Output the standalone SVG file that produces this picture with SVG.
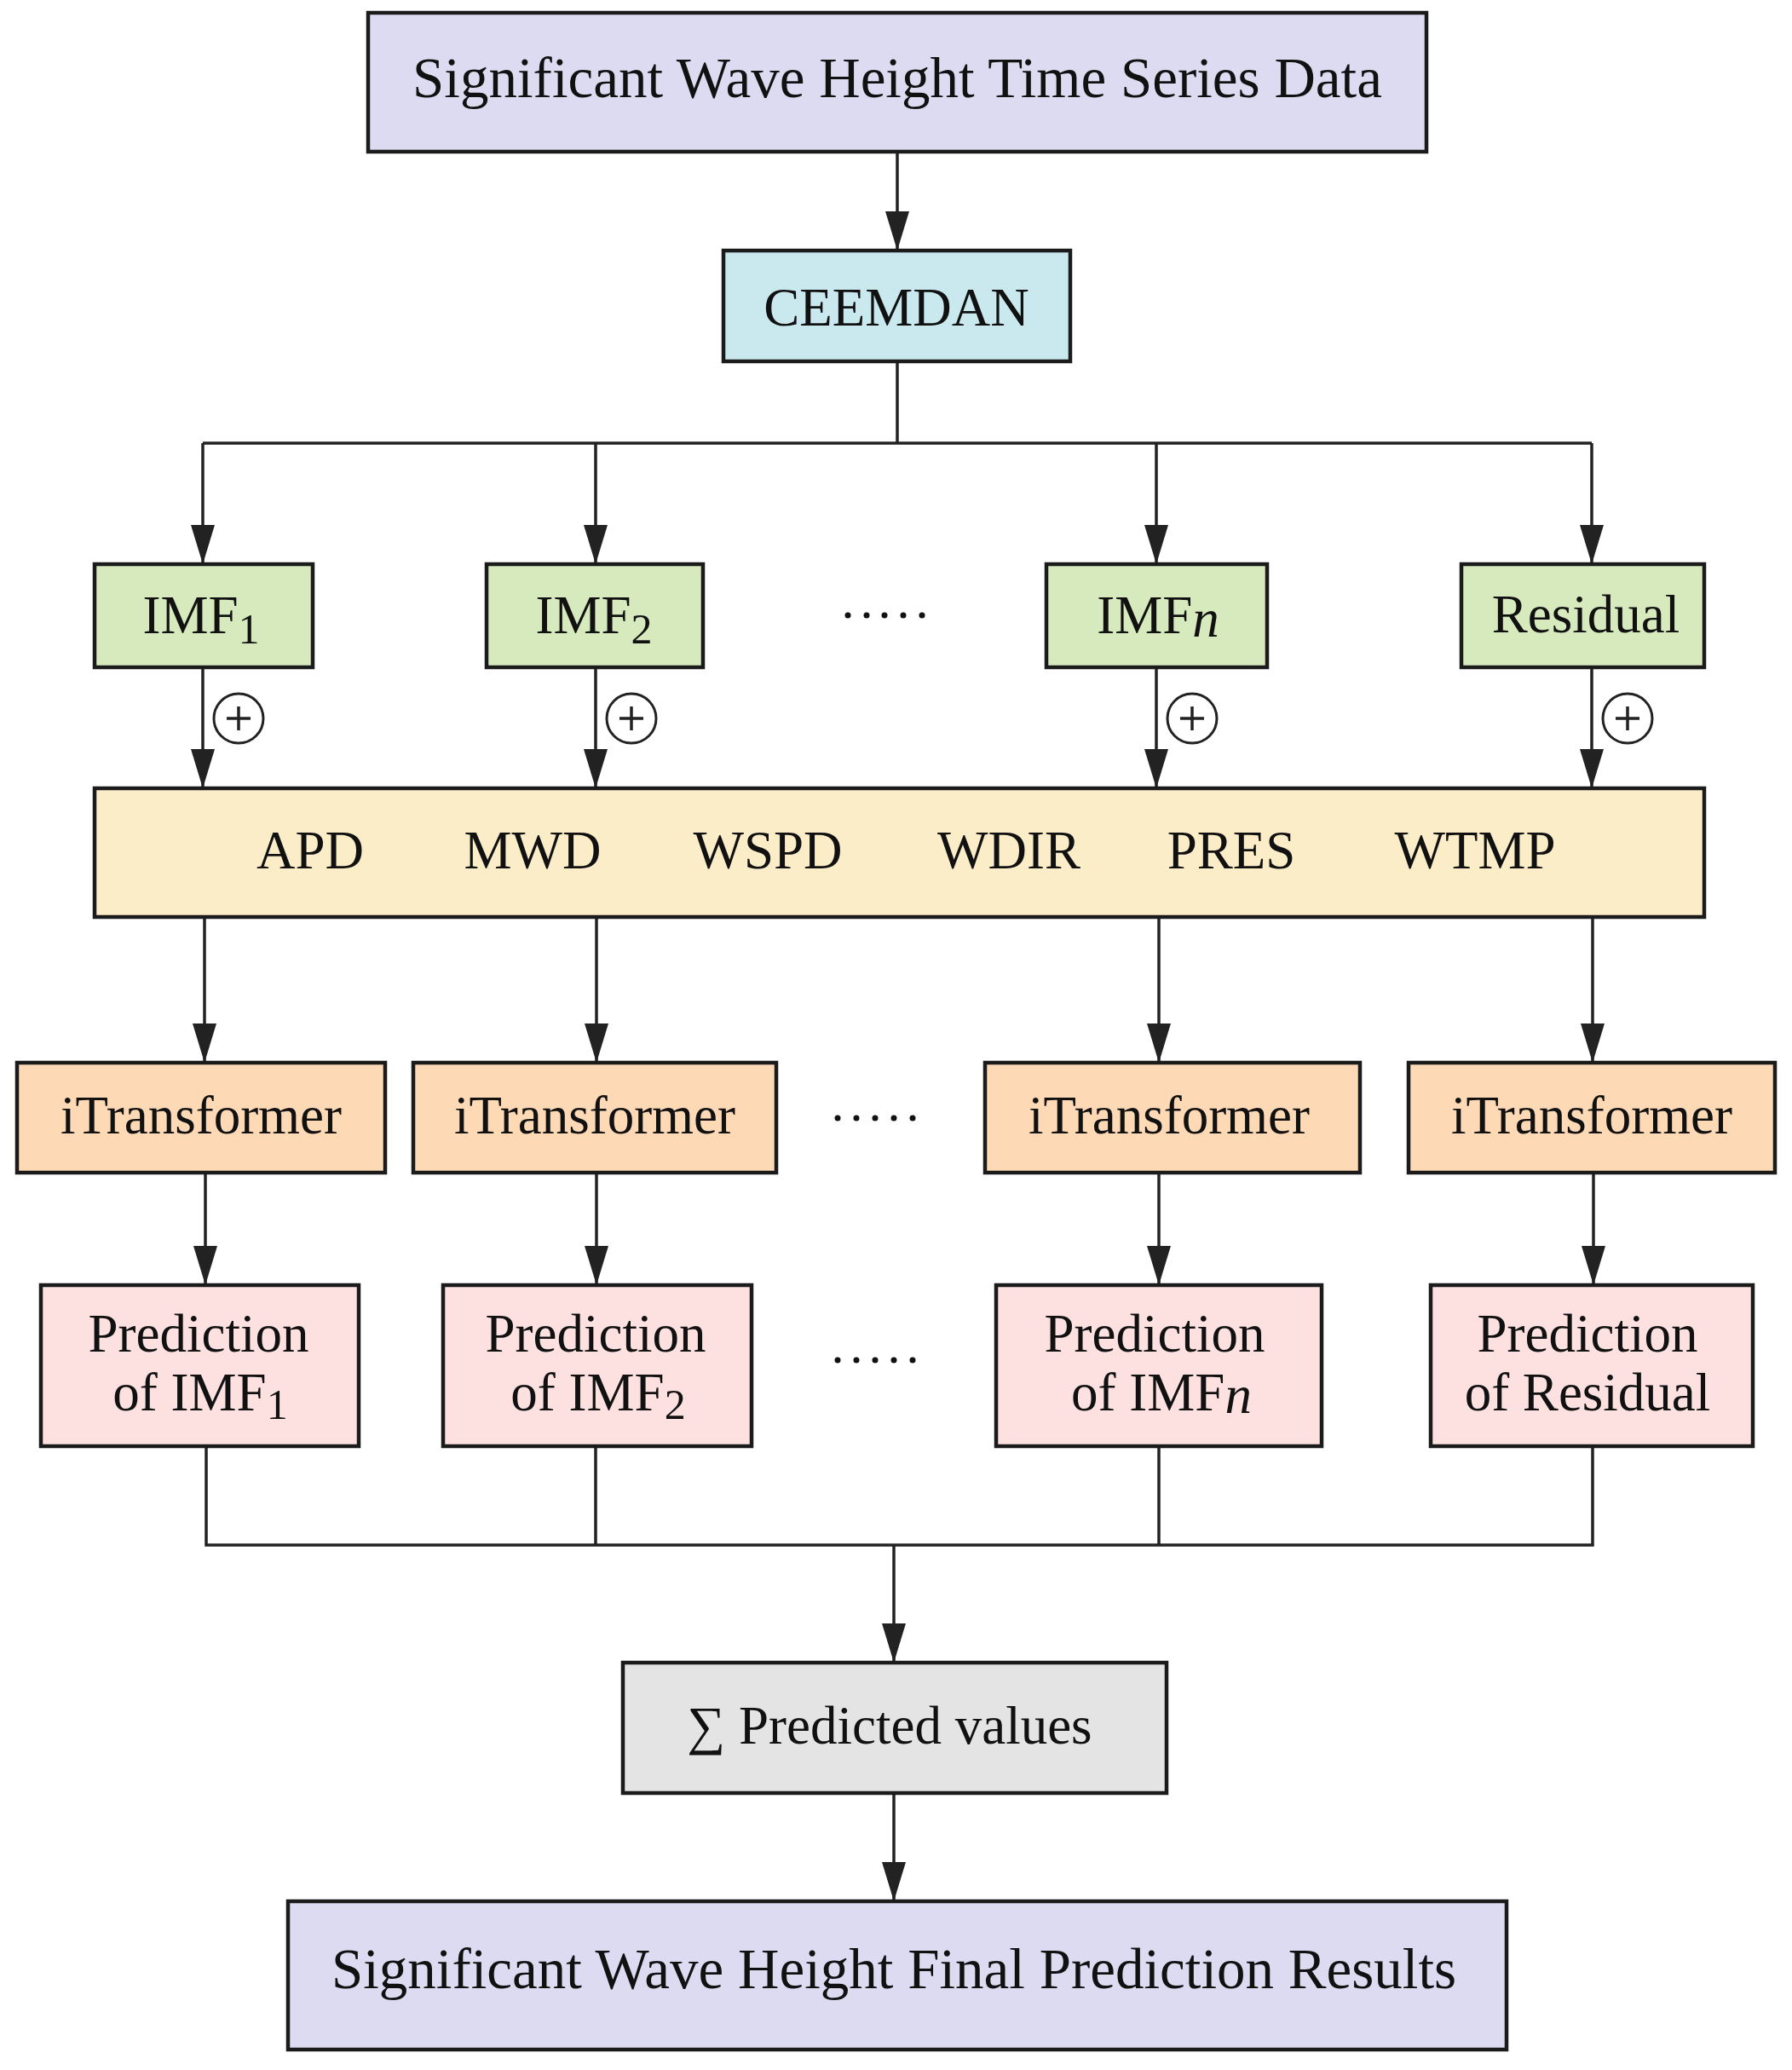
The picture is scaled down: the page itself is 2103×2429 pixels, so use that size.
<svg xmlns="http://www.w3.org/2000/svg" width="2103" height="2429" viewBox="0 0 2103 2429">
<style>
.box{stroke:#1b1b1b;stroke-width:4.5}
.lav{fill:#DDDBF2}.cyan{fill:#C9E9EE}.grn{fill:#D7EABD}.yel{fill:#FBEDC8}.peach{fill:#FDD9B6}.pink{fill:#FDE1E1}.gray{fill:#E4E4E4}
text{font-family:"Liberation Serif","Times New Roman",serif;fill:#111;text-anchor:middle}
.lbl{font-size:63px}
.big{font-size:67px}
.sub{font-size:50px}
.conn path{fill:none;stroke:#222;stroke-width:3.5}
.plus circle{fill:#fff;stroke:#222;stroke-width:3}
.plus path{stroke:#222;stroke-width:3.5;fill:none}
.dots circle{fill:#111}
</style>
<defs>
<marker id="ah" markerUnits="userSpaceOnUse" markerWidth="46" markerHeight="28" refX="46" refY="14" orient="auto">
<path d="M0,0 L46,14 L0,28 Z" fill="#222"/>
</marker>
</defs>
<rect width="2103" height="2429" fill="#fff"/>

<g class="conn">
<path d="M1053,178 V294" marker-end="url(#ah)"/>
<path d="M1053,424 V520"/>
<path d="M238,520 H1868"/>
<path d="M238,520 V662" marker-end="url(#ah)"/>
<path d="M699,520 V662" marker-end="url(#ah)"/>
<path d="M1357,520 V662" marker-end="url(#ah)"/>
<path d="M1868,520 V662" marker-end="url(#ah)"/>
<path d="M238,783 V925" marker-end="url(#ah)"/>
<path d="M699,783 V925" marker-end="url(#ah)"/>
<path d="M1357,783 V925" marker-end="url(#ah)"/>
<path d="M1868,783 V925" marker-end="url(#ah)"/>
<path d="M240,1076 V1247" marker-end="url(#ah)"/>
<path d="M700,1076 V1247" marker-end="url(#ah)"/>
<path d="M1360,1076 V1247" marker-end="url(#ah)"/>
<path d="M1869,1076 V1247" marker-end="url(#ah)"/>
<path d="M241,1376 V1508" marker-end="url(#ah)"/>
<path d="M700,1376 V1508" marker-end="url(#ah)"/>
<path d="M1360,1376 V1508" marker-end="url(#ah)"/>
<path d="M1870,1376 V1508" marker-end="url(#ah)"/>
<path d="M242,1697 V1813 H1869 V1697"/>
<path d="M699,1697 V1813"/>
<path d="M1360,1697 V1813"/>
<path d="M1049,1813 V1951" marker-end="url(#ah)"/>
<path d="M1049,2104 V2231" marker-end="url(#ah)"/>
</g>

<g class="plus">
<g id="plus1"><circle cx="280" cy="843" r="29"/><path d="M266,843 H294 M280,829 V857"/></g>
<g id="plus2"><circle cx="741" cy="843" r="29"/><path d="M727,843 H755 M741,829 V857"/></g>
<g id="plus3"><circle cx="1399" cy="843" r="29"/><path d="M1385,843 H1413 M1399,829 V857"/></g>
<g id="plus4"><circle cx="1910" cy="843" r="29"/><path d="M1896,843 H1924 M1910,829 V857"/></g>
</g>

<g id="input">
<rect class="box lav" x="432" y="15" width="1242" height="163"/>
<text class="big" x="1053" y="114">Significant Wave Height Time Series Data</text>
</g>
<g id="ceemdan">
<rect class="box cyan" x="849" y="294" width="407" height="130"/>
<text class="lbl" x="1052" y="382">CEEMDAN</text>
</g>

<g id="imf1">
<rect class="box grn" x="111" y="662" width="256" height="121"/>
<text class="lbl" x="236" y="743">IMF<tspan class="sub" dy="12">1</tspan></text>
</g>
<g id="imf2">
<rect class="box grn" x="571" y="662" width="254" height="121"/>
<text class="lbl" x="697" y="743">IMF<tspan class="sub" dy="12">2</tspan></text>
</g>
<g id="imfn">
<rect class="box grn" x="1228" y="662" width="259" height="121"/>
<text class="lbl" x="1359" y="743">IMF<tspan font-style="italic" dy="4">n</tspan></text>
</g>
<g id="residual">
<rect class="box grn" x="1715" y="662" width="285" height="121"/>
<text class="lbl" x="1861" y="742">Residual</text>
</g>
<g class="dots" id="dots1">
<circle cx="995" cy="722" r="3.5"/><circle cx="1017" cy="722" r="3.5"/><circle cx="1038" cy="722" r="3.5"/><circle cx="1060" cy="722" r="3.5"/><circle cx="1082" cy="722" r="3.5"/>
</g>

<g id="features">
<rect class="box yel" x="111" y="925" width="1889" height="151"/>
<text class="lbl" x="364" y="1019">APD</text>
<text class="lbl" x="625" y="1019">MWD</text>
<text class="lbl" x="901" y="1019">WSPD</text>
<text class="lbl" x="1184" y="1019">WDIR</text>
<text class="lbl" x="1445" y="1019">PRES</text>
<text class="lbl" x="1731" y="1019">WTMP</text>
</g>

<g id="it1">
<rect class="box peach" x="20" y="1247" width="432" height="129"/>
<text class="lbl" x="236" y="1330">iTransformer</text>
</g>
<g id="it2">
<rect class="box peach" x="485" y="1247" width="426" height="129"/>
<text class="lbl" x="698" y="1330">iTransformer</text>
</g>
<g id="it3">
<rect class="box peach" x="1156" y="1247" width="440" height="129"/>
<text class="lbl" x="1372" y="1330">iTransformer</text>
</g>
<g id="it4">
<rect class="box peach" x="1653" y="1247" width="430" height="129"/>
<text class="lbl" x="1868" y="1330">iTransformer</text>
</g>
<g class="dots" id="dots2">
<circle cx="983" cy="1312" r="3.5"/><circle cx="1005" cy="1312" r="3.5"/><circle cx="1027" cy="1312" r="3.5"/><circle cx="1049" cy="1312" r="3.5"/><circle cx="1071" cy="1312" r="3.5"/>
</g>

<g id="pred1">
<rect class="box pink" x="48" y="1508" width="373" height="189"/>
<text class="lbl" x="233" y="1586">Prediction</text>
<text class="lbl" x="235" y="1655">of IMF<tspan class="sub" dy="10">1</tspan></text>
</g>
<g id="pred2">
<rect class="box pink" x="520" y="1508" width="362" height="189"/>
<text class="lbl" x="699" y="1586">Prediction</text>
<text class="lbl" x="702" y="1655">of IMF<tspan class="sub" dy="10">2</tspan></text>
</g>
<g id="predn">
<rect class="box pink" x="1169" y="1508" width="382" height="189"/>
<text class="lbl" x="1355" y="1586">Prediction</text>
<text class="lbl" x="1363" y="1655">of IMF<tspan font-style="italic" dy="3">n</tspan></text>
</g>
<g id="predr">
<rect class="box pink" x="1679" y="1508" width="378" height="189"/>
<text class="lbl" x="1863" y="1586">Prediction</text>
<text class="lbl" x="1863" y="1655">of Residual</text>
</g>
<g class="dots" id="dots3">
<circle cx="983" cy="1596" r="3.5"/><circle cx="1005" cy="1596" r="3.5"/><circle cx="1027" cy="1596" r="3.5"/><circle cx="1049" cy="1596" r="3.5"/><circle cx="1071" cy="1596" r="3.5"/>
</g>

<g id="sum">
<rect class="box gray" x="731" y="1951" width="638" height="153"/>
<text class="lbl" x="1044" y="2046">∑ Predicted values</text>
</g>
<g id="final">
<rect class="box lav" x="338" y="2231" width="1430" height="174"/>
<text class="big" x="1049" y="2333">Significant Wave Height Final Prediction Results</text>
</g>
</svg>
